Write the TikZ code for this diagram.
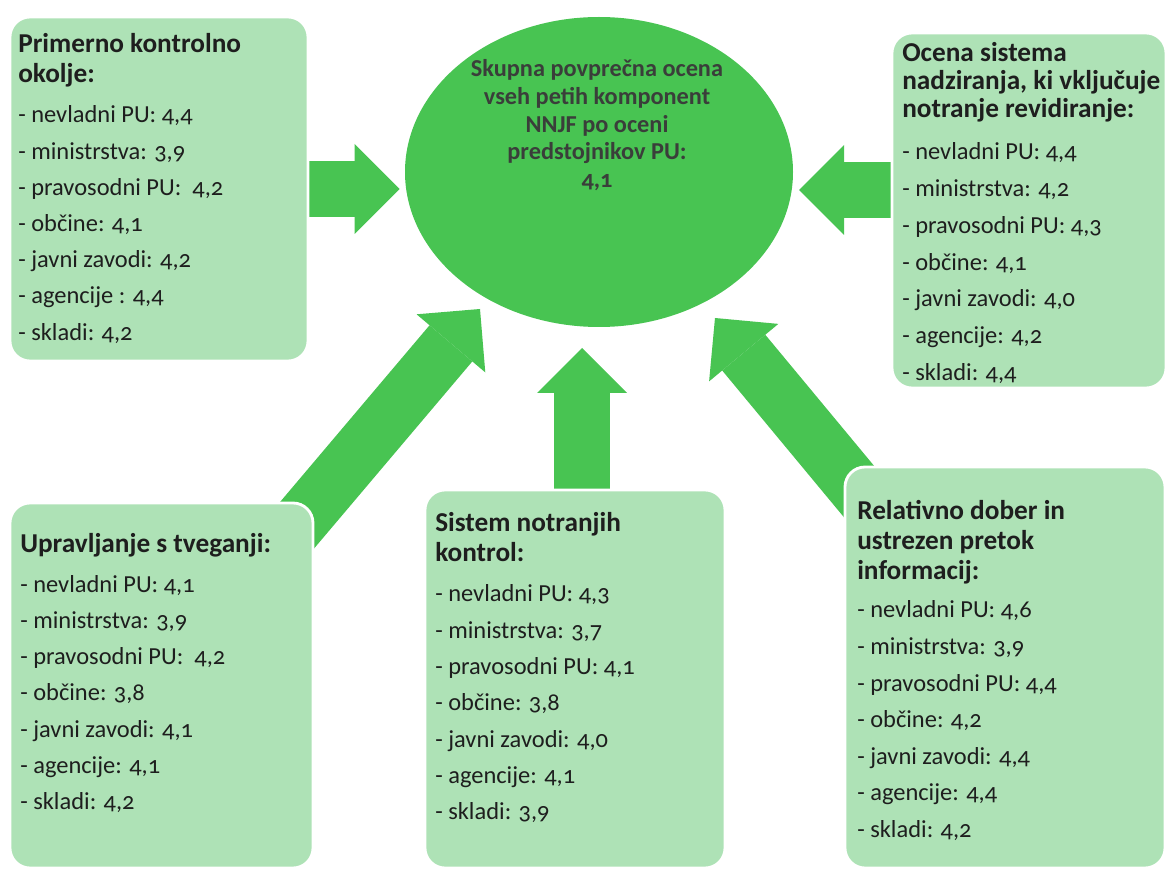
\documentclass[tikz,border=0pt]{standalone}
\usepackage{fontspec}
\setmainfont{Carlito}[Numbers=OldStyle]
\usetikzlibrary{shapes.geometric, arrows.meta, backgrounds}
\definecolor{brightgreen}{RGB}{72, 196, 82}
\definecolor{palegreen}{RGB}{174, 226, 182}
\definecolor{inktext}{RGB}{30, 30, 30}
\definecolor{ovaltext}{RGB}{58, 62, 58}
\tikzset{
    scorebox/.style={rectangle, draw=white, line width=2pt, fill=palegreen, rounded corners=0.5cm, inner sep=0pt},
    headline/.style={anchor=base west, inner sep=0pt, font=\fontsize{19.4}{22}\selectfont\bfseries, text=inktext},
    itemline/.style={anchor=base west, inner sep=0pt, font=\fontsize{17.4}{21}\selectfont, text=inktext},
    oval/.style={ellipse, fill=brightgreen, minimum width=9.7cm, minimum height=7.75cm, inner sep=0pt},
    ovalline/.style={anchor=base, inner sep=0pt, font=\fontsize{17.3}{20}\selectfont\bfseries, text=ovaltext},
    bigarrow/.style={line width=1.4cm, draw=brightgreen, -{Triangle[length=1.125cm, width=2.25cm, line width=0pt]}},
}

\begin{document}
\begin{tikzpicture}
    \useasboundingbox (0,0) rectangle (29.225,21.75);

    % Centre oval
    \node[oval] (ell) at (14.975, 17.45) {};
    \foreach \t [count=\i from 0] in {Skupna povprečna ocena, vseh petih komponent, NNJF po oceni, predstojnikov PU:}
        \node[ovalline] (ot\i) at (14.925, 19.825-0.69*\i) {\t};
    \node[ovalline] (otval) at (14.925, 17.05) {4,1};

    % Component boxes
    \node[scorebox, minimum width=7.45cm, minimum height=8.6cm] (pk) at (3.975, 17.025) {};
    \node[scorebox, minimum width=6.85cm, minimum height=8.875cm] (on) at (25.725, 16.4875) {};
    \node[scorebox, minimum width=7.575cm, minimum height=9.125cm] (rt) at (4.0375, 4.6125) {};
    \node[scorebox, minimum width=7.5cm, minimum height=9.45cm] (snk) at (14.375, 4.775) {};
    \node[scorebox, minimum width=8.0cm, minimum height=10.025cm] (ip) at (25.125, 5.0625) {};

    % Primerno kontrolno okolje
    \foreach \t [count=\i from 0] in {Primerno kontrolno, okolje:}
        \node[headline] (pkh\i) at (0.45, 20.425-0.75*\i) {\t};
    \foreach \t [count=\i from 0] in {{- nevladni PU: 4,4}, {- ministrstva: 3,9}, {- pravosodni PU: \ 4,2}, {- občine: 4,1}, {- javni zavodi: 4,2}, {- agencije : 4,4}, {- skladi: 4,2}}
        \node[itemline] (pki\i) at (0.45, 18.675-0.905*\i) {\t};

    % Ocena sistema nadziranja
    \foreach \t [count=\i from 0] in {Ocena sistema, {nadziranja, ki vključuje}, notranje revidiranje:}
        \node[headline] (onh\i) at (22.55, 20.2-0.7*\i) {\t};
    \foreach \t [count=\i from 0] in {{- nevladni PU: 4,4}, {- ministrstva: 4,2}, {- pravosodni PU: 4,3}, {- občine: 4,1}, {- javni zavodi: 4,0}, {- agencije: 4,2}, {- skladi: 4,4}}
        \node[itemline] (oni\i) at (22.55, 17.75-0.917*\i) {\t};

    % Upravljanje s tveganji
    \node[headline] (rth0) at (0.5, 7.925) {Upravljanje s tveganji:};
    \foreach \t [count=\i from 0] in {{- nevladni PU: 4,1}, {- ministrstva: 3,9}, {- pravosodni PU: \ 4,2}, {- občine: 3,8}, {- javni zavodi: 4,1}, {- agencije: 4,1}, {- skladi: 4,2}}
        \node[itemline] (rti\i) at (0.5, 6.95-0.908*\i) {\t};

    % Sistem notranjih kontrol
    \foreach \t [count=\i from 0] in {Sistem notranjih, kontrol:}
        \node[headline] (snkh\i) at (10.875, 8.45-0.75*\i) {\t};
    \foreach \t [count=\i from 0] in {{- nevladni PU: 4,3}, {- ministrstva: 3,7}, {- pravosodni PU: 4,1}, {- občine: 3,8}, {- javni zavodi: 4,0}, {- agencije: 4,1}, {- skladi: 3,9}}
        \node[itemline] (snki\i) at (10.875, 6.7-0.908*\i) {\t};

    % Pretok informacij
    \foreach \t [count=\i from 0] in {Relativno dober in, ustrezen pretok, informacij:}
        \node[headline] (iph\i) at (21.425, 8.75-0.75*\i) {\t};
    \foreach \t [count=\i from 0] in {{- nevladni PU: 4,6}, {- ministrstva: 3,9}, {- pravosodni PU: 4,4}, {- občine: 4,2}, {- javni zavodi: 4,4}, {- agencije: 4,4}, {- skladi: 4,2}}
        \node[itemline] (ipi\i) at (21.425, 6.3-0.913*\i) {\t};

    % Arrows into the oval
    \coordinate (tipR) at (19.975, 17.0);
    \coordinate (tipU) at (14.55, 13.05);
    \coordinate (tipUL) at (12.0, 14.025);
    \coordinate (tipUR) at (17.875, 13.8);
    \begin{scope}[on background layer]
        \fill[white] (0,0) rectangle (29.225,21.75);
        \draw[bigarrow, shorten >=0.125cm] (pk.center) -- (pk.center -| ell.west);
        \draw[bigarrow] (tipR -| on.west) -- (tipR);
        \draw[bigarrow] (rt.center) -- (tipUL);
        \draw[bigarrow] (tipU |- snk.center) -- (tipU);
        \draw[bigarrow] (ip.center) -- (tipUR);
    \end{scope}
\end{tikzpicture}
\end{document}
